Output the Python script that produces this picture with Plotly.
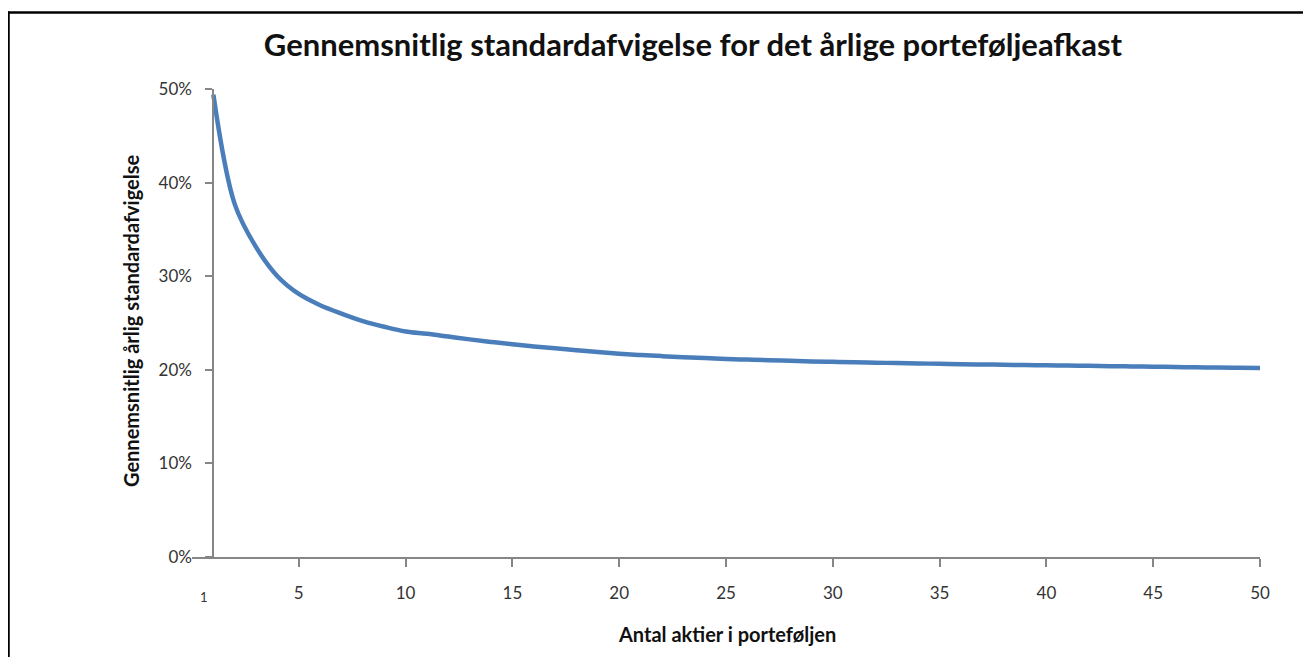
import plotly.graph_objects as go

n_stocks = list(range(1, 51))
std_dev = [0.494, 0.377, 0.331, 0.300, 0.281, 0.269, 0.260, 0.252, 0.246, 0.241,
           0.2385, 0.2355, 0.2325, 0.2298, 0.2272, 0.2250, 0.2230, 0.2210, 0.2190, 0.2172,
           0.2158, 0.2146, 0.2135, 0.2125, 0.2116, 0.2109, 0.2102, 0.2096, 0.2090, 0.2085,
           0.2080, 0.2076, 0.2072, 0.2068, 0.2064, 0.2060, 0.2057, 0.2054, 0.2051, 0.2048,
           0.2045, 0.2042, 0.2039, 0.2036, 0.2033, 0.2030, 0.2027, 0.2024, 0.2022, 0.2020]
x_ticks = [5, 10, 15, 20, 25, 30, 35, 40, 45, 50]
y_ticks = [0, 0.1, 0.2, 0.3, 0.4, 0.5]
y_ticktext = ["0%", "10%", "20%", "30%", "40%", "50%"]

title_text = "Gennemsnitlig standardafvigelse for det årlige porteføljeafkast"
x_title = "Antal aktier i porteføljen"
y_title = "Gennemsnitlig årlig standardafvigelse"

# page body has an 8px margin, so figure coords = screen coords - 8
OFF = 8
W, H = 1311 - OFF, 657 - OFF
L, R, T, B = 192 - OFF, 51, 89 - OFF, 100
PW, PH = W - L - R, H - T - B

def px(sx):
    return (sx - OFF - L) / PW

def py(sy):
    return 1 - (sy - OFF - T) / PH

fig = go.Figure()
fig.add_trace(go.Scatter(
    x=n_stocks, y=std_dev, mode="lines",
    line=dict(color="#4a7ebb", width=4.5, shape="spline", smoothing=1.0),
    hoverinfo="x+y", showlegend=False,
))

FONT = "Lato, Open Sans, sans-serif"
axis_font = dict(family=FONT, size=17, color="#333333")
fig.update_layout(
    width=W, height=H,
    margin=dict(l=L, r=R, t=T, b=B),
    paper_bgcolor="white", plot_bgcolor="white",
    title=dict(text="<b>" + title_text + "</b>", x=(693 - OFF) / W, xanchor="center",
               y=1 - (45 - OFF) / H, yanchor="middle",
               font=dict(family=FONT, size=31, color="#111111")),
    xaxis=dict(range=[0, 50], tickvals=x_ticks, ticktext=[str(v) for v in x_ticks],
               showgrid=False, zeroline=False, showline=True, linecolor="#868686", linewidth=2,
               ticks="outside", ticklen=8, tickwidth=2, tickcolor="#868686",
               tickfont=axis_font, ticklabelstandoff=12),
    yaxis=dict(range=[0, 0.5], tickvals=y_ticks, ticktext=y_ticktext,
               anchor="free", position=1 / 50,
               showgrid=False, zeroline=False, showline=True, linecolor="#868686", linewidth=2,
               ticks="outside", ticklen=7, tickwidth=2, tickcolor="#868686",
               tickfont=axis_font, ticklabelstandoff=10),
    font=axis_font,
)

# special small "1" label at the first category
fig.add_annotation(x=px(204), y=py(597), xref="paper", yref="paper", text="1", showarrow=False,
                   xanchor="center", yanchor="middle",
                   font=dict(family=FONT, size=13, color="#333333"))
# axis titles
fig.add_annotation(x=px(727), y=py(634), xref="paper", yref="paper",
                   text="<b>" + x_title + "</b>", showarrow=False,
                   xanchor="center", yanchor="middle",
                   font=dict(family=FONT, size=20, color="#111111"))
fig.add_annotation(x=px(131), y=py(321), xref="paper", yref="paper",
                   text="<b>" + y_title + "</b>", showarrow=False, textangle=-90,
                   xanchor="center", yanchor="middle",
                   font=dict(family=FONT, size=20, color="#111111"))

# document frame lines (top and left)
fig.add_shape(type="line", xref="paper", yref="paper",
              x0=px(7.5), x1=px(1320), y0=py(12.5), y1=py(12.5),
              line=dict(color="black", width=2.5))
fig.add_shape(type="line", xref="paper", yref="paper",
              x0=px(8.5), x1=px(8.5), y0=py(11.5), y1=py(670),
              line=dict(color="black", width=2.5))

fig.write_html("out.html")
